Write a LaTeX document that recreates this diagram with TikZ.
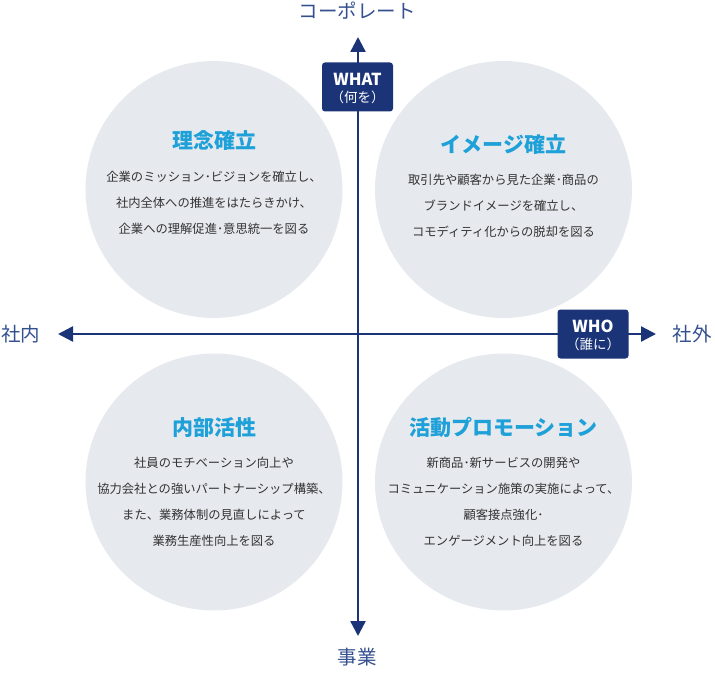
\documentclass[tikz,border=0pt]{standalone}
\usepackage{fontspec}
\setmainfont{Noto Sans CJK JP}
\newfontfamily\jp{Noto Sans CJK JP}
\usetikzlibrary{arrows.meta}
\definecolor{navy}{HTML}{1B3478}
\definecolor{circ}{HTML}{E6E9EE}
\definecolor{ttl}{HTML}{1EA0D8}
\definecolor{body}{HTML}{333333}
\definecolor{lbl}{HTML}{34508F}
\tikzset{
  quad/.style={circle,fill=circ,minimum size=257pt,inner sep=0pt},
  ttlstyle/.style={font=\jp\bfseries\fontsize{21}{24}\selectfont,text=ttl,inner sep=0pt},
  bodystyle/.style={font=\jp\fontsize{12.3}{26}\selectfont,text=body,align=center,inner sep=0pt},
  axis/.style={draw=navy,line width=2.4pt,-{Triangle[width=15pt,length=15pt]}},
  tagbox/.style={fill=navy,rounded corners=3pt,minimum width=71pt,minimum height=49pt,align=center,text=white,inner sep=0pt},
  tagmain/.style={font=\jp\bfseries\fontsize{16.5}{17}\selectfont},
  tagsub/.style={font=\jp\fontsize{13.5}{14}\selectfont},
  axlabel/.style={font=\jp\fontsize{19.5}{22}\selectfont,text=lbl,inner sep=0pt}
}
\begin{document}
\begin{tikzpicture}[x=1pt,y=-1pt]
\useasboundingbox (0,0) rectangle (715,687);
\node[quad] (c1) at (214,189.5) {};
\node[quad] (c2) at (503.5,189.5) {};
\node[quad] (c3) at (214,482) {};
\node[quad] (c4) at (503.5,482) {};
\coordinate (o) at (358,334);
\coordinate (top) at (358,37);
\coordinate (bot) at (358,636);
\coordinate (lft) at (58,334);
\coordinate (rgt) at (656,334);
\draw[axis] (o) -- (top);
\draw[axis] (o) -- (bot);
\draw[axis] (o) -- (lft);
\draw[axis] (o) -- (rgt);
\node[tagbox] (what) at (357.5,87) {};
\node[tagmain,text=white,inner sep=0pt] (whatm) at (357.5,79) {WHAT};
\node[tagsub,text=white,inner sep=0pt] (whats) at (357.5,97) {（何を）};
\node[tagbox] (who) at (593,334) {};
\node[tagmain,text=white,inner sep=0pt] (whom) at (593,326) {WHO};
\node[tagsub,text=white,inner sep=0pt] (whos) at (593,344) {（誰に）};
\node[axlabel] (ltop) at (357,11) {コーポレート};
\node[axlabel] (lbot) at (357,657) {事業};
\node[axlabel] (llft) at (21,334) {社内};
\node[axlabel] (lrgt) at (692,334) {社外};
\node[ttlstyle] (t1) at (214,141) {理念確立};
\node[bodystyle] (b1) at (214,202.5) {企業のミッション･ビジョンを確立し、\\社内全体への推進をはたらきかけ、\\企業への理解促進･意思統一を図る};
\node[ttlstyle] (t2) at (503.5,144.5) {イメージ確立};
\node[bodystyle] (b2) at (503.5,206) {取引先や顧客から見た企業･商品の\\ブランドイメージを確立し、\\コモディティ化からの脱却を図る};
\node[ttlstyle] (t3) at (214,427.5) {内部活性};
\node[bodystyle] (b3) at (214,501.5) {社員のモチベーション向上や\\協力会社との強いパートナーシップ構築、\\また、業務体制の見直しによって\\業務生産性向上を図る};
\node[ttlstyle] (t4) at (503.5,427.5) {活動プロモーション};
\node[bodystyle] (b4) at (503.5,501.5) {新商品･新サービスの開発や\\コミュニケーション施策の実施によって、\\顧客接点強化･\\エンゲージメント向上を図る};
\end{tikzpicture}
\end{document}
